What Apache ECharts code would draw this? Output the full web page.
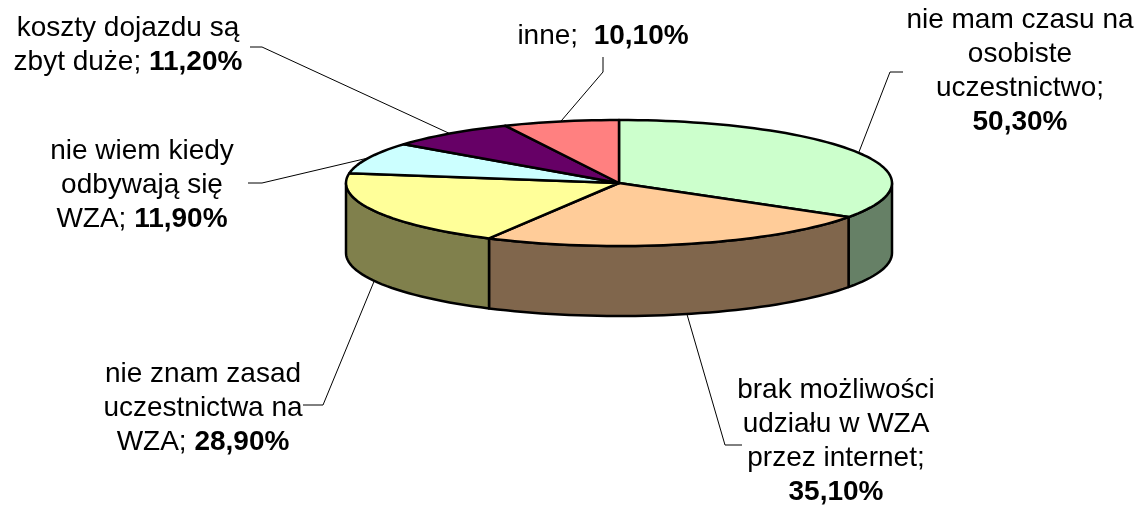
<!DOCTYPE html>
<html>
<head>
<meta charset="utf-8">
<script src="https://cdn.jsdelivr.net/npm/echarts@6/dist/echarts.min.js"></script>
<style>
  html, body { margin: 0; padding: 0; background: #fff; }
  #chart { width: 1143px; height: 506px; }
</style>
</head>
<body>
<div id="chart"></div>
<script>
// slice names (line breaks as in the original labels)
const categories = [
  'nie mam czasu na\nosobiste\nuczestnictwo',
  'brak możliwości\nudziału w WZA\nprzez internet',
  'nie znam zasad\nuczestnictwa na\nWZA',
  'nie wiem kiedy\nodbywają się\nWZA',
  'koszty dojazdu są\nzbyt duże',
  'inne'
]
const values = [50.3, 35.1, 28.9, 11.9, 11.2, 10.1]
const topColors = ['#CCFFCC', '#FFCC99', '#FFFF99', '#CCFFFF', '#660066', '#FF8080']
const sideColors = ['#668066', '#80664C', '#80804C', '#668080', '#330033', '#804040']
// what goes between "name;" and the value
const valueSeps = ['\n', '\n', ' ', ' ', ' ', '  ']

// flattened pie geometry, px
const pie = { cx: 619, cy: 183, rx: 273, ry: 63, depth: 70 }

// label block centre, leader elbow and leader end
const labelLayout = [
  { pos: [1020, 71], elbow: [890, 72], end: [903, 72] },
  { pos: [836, 441], elbow: [725, 445], end: [742, 445] },
  { pos: [203, 408], elbow: [323, 405], end: [303, 405] },
  { pos: [142, 185], elbow: [262, 183], end: [248, 183] },
  { pos: [128, 45], elbow: [262, 47], end: [250, 47] },
  { pos: [603, 36], elbow: [603, 72], end: [603, 57] }
]

const total = values.reduce((a, b) => a + b, 0)
const starts = []
let acc = 0
values.forEach(v => { starts.push(acc / total * 360); acc += v })

function pt(deg, dy) {
  const r = deg * Math.PI / 180
  return [pie.cx + pie.rx * Math.sin(r), pie.cy - pie.ry * Math.cos(r) + (dy || 0)]
}

function arc(a0, a1, dy) {
  const n = Math.max(2, Math.ceil((a1 - a0) / 2))
  const pts = []
  for (let i = 0; i <= n; i++) {
    pts.push(pt(a0 + (a1 - a0) * i / n, dy))
  }
  return pts
}

function fmt(v) {
  return v.toFixed(2).replace('.', ',') + '%'
}

function labelText(i, v) {
  const lines = categories[i].split('\n').map(s => '{n|' + s + '}')
  const last = lines.length - 1
  if (valueSeps[i] === '\n') {
    lines[last] = lines[last].replace('}', ';}')
    lines.push('{b|' + fmt(v) + '}')
  } else {
    lines[last] = lines[last].replace('}', ';' + valueSeps[i] + '}') + '{b|' + fmt(v) + '}'
  }
  return lines.join('\n')
}

const font = 'Liberation Sans, Arial, sans-serif'

function renderItem(params, api) {
  const i = params.dataIndex
  const v = api.value(0)
  const a0 = starts[i]
  const a1 = a0 + v / total * 360
  const children = []

  // top face
  children.push({
    type: 'polygon',
    shape: { points: [[pie.cx, pie.cy]].concat(arc(a0, a1, 0)) },
    style: { fill: topColors[i], stroke: '#000', lineWidth: 2.5, lineJoin: 'round' },
    z2: 20
  })

  // visible front wall
  const s0 = Math.max(a0, 90)
  const s1 = Math.min(a1, 270)
  if (s1 > s0) {
    const top = arc(s0, s1, 0)
    const bot = arc(s0, s1, pie.depth).reverse()
    children.push({
      type: 'polygon',
      shape: { points: top.concat(bot) },
      style: { fill: sideColors[i], stroke: '#000', lineWidth: 2.5, lineJoin: 'round' },
      z2: 10
    })
  }

  // leader line
  const mid = (a0 + a1) / 2
  const front = mid > 90 && mid < 270
  const L = labelLayout[i]
  children.push({
    type: 'polyline',
    shape: { points: [pt(mid, front ? pie.depth : 0), L.elbow, L.end] },
    style: { stroke: '#000', lineWidth: 1, fill: null },
    z2: 30
  })

  // label
  children.push({
    type: 'text',
    x: L.pos[0],
    y: L.pos[1],
    style: {
      text: labelText(i, v),
      align: 'center',
      verticalAlign: 'middle',
      rich: {
        n: { fontFamily: font, fontSize: 28, lineHeight: 34, fill: '#000' },
        b: { fontFamily: font, fontSize: 28, lineHeight: 34, fontWeight: 'bold', fill: '#000' }
      }
    },
    z2: 30
  })

  return { type: 'group', children }
}

const chart = echarts.init(document.getElementById('chart'))
chart.setOption({
  animation: false,
  backgroundColor: '#fff',
  series: [
    {
      type: 'custom',
      coordinateSystem: 'none',
      renderItem: renderItem,
      data: values.map((v, i) => ({ name: categories[i], value: v }))
    }
  ]
})
</script>
</body>
</html>
